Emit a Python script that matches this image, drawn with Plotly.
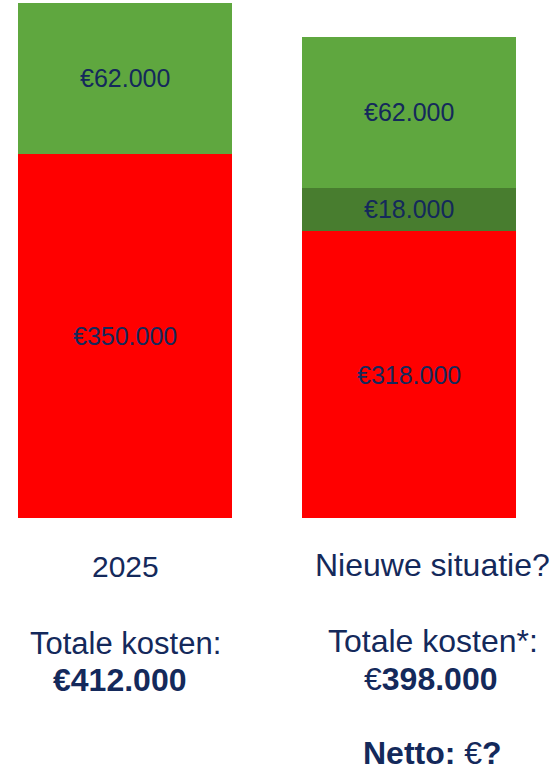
import plotly.graph_objects as go

# Cost components per scenario (euro)
scenarios = ["2025", "Nieuwe situatie?"]
base_costs = [350000, 318000]
extra_costs = [None, 18000]
green_costs = [62000, 62000]

NAVY = "#14295B"
FONT = "Arial, Liberation Sans, sans-serif"

W, H = 552, 770
PLOT_TOP, PLOT_BOTTOM = 3, 518
AXIS_MIN = 200000

fig = go.Figure()

segments = [
    (base_costs, "#FF0000"),
    (extra_costs, "#487D2F"),
    (green_costs, "#5FA73F"),
]
for vals, color in segments:
    fig.add_trace(go.Bar(
        x=scenarios,
        y=vals,
        marker=dict(color=color, line=dict(width=0)),
        hoverinfo="skip",
    ))

totals = [sum(v for v in col if v) for col in zip(base_costs, extra_costs, green_costs)]


def euro(v):
    return "€" + f"{v:,}".replace(",", ".")


# Value labels, centred in the visible part of each stacked segment
for i in range(len(scenarios)):
    start = 0
    for vals, _ in segments:
        v = vals[i]
        if not v:
            continue
        end = start + v
        mid = (max(start, AXIS_MIN) + end) / 2
        fig.add_annotation(
            x=i, y=mid, xref="x", yref="y",
            text=euro(v), showarrow=False,
            xanchor="center", yanchor="middle",
            font=dict(family=FONT, size=25, color=NAVY),
        )
        start = end


def py(pixel_y):
    # convert a page pixel row to paper coordinates of the plot area
    return (PLOT_BOTTOM - pixel_y) / (PLOT_BOTTOM - PLOT_TOP)


new_total = euro(totals[1])
notes = [
    (125, 566, scenarios[0], 30),
    (432, 565, scenarios[1], 32),
    (125, 643, "Totale kosten:", 31),
    (119, 680, f"<b>{euro(totals[0])}</b>", 32),
    (433, 641, "Totale kosten*:", 32),
    (430, 679, f"{new_total[0]}<b>{new_total[1:]}</b>", 32),
    (432, 753, "<b>Netto:</b> €<b>?</b>", 32),
]
for px, pyy, text, size in notes:
    fig.add_annotation(
        x=px / W, y=py(pyy), xref="paper", yref="paper",
        text=text, showarrow=False, xanchor="center", yanchor="middle",
        font=dict(family=FONT, size=size, color=NAVY),
    )

fig.update_layout(
    width=W, height=H,
    margin=dict(l=0, r=0, t=PLOT_TOP, b=H - PLOT_BOTTOM, pad=0),
    barmode="stack",
    bargap=1 - 214 / 284,
    showlegend=False,
    plot_bgcolor="white",
    paper_bgcolor="white",
    xaxis=dict(
        type="category",
        range=[-125 / 284, (W - 125) / 284],
        showticklabels=False, showgrid=False, zeroline=False,
        showline=False, ticks="",
    ),
    yaxis=dict(
        range=[AXIS_MIN, totals[0]],
        showticklabels=False, showgrid=False, zeroline=False,
        showline=False, ticks="",
    ),
)

fig.write_html("out.html")
